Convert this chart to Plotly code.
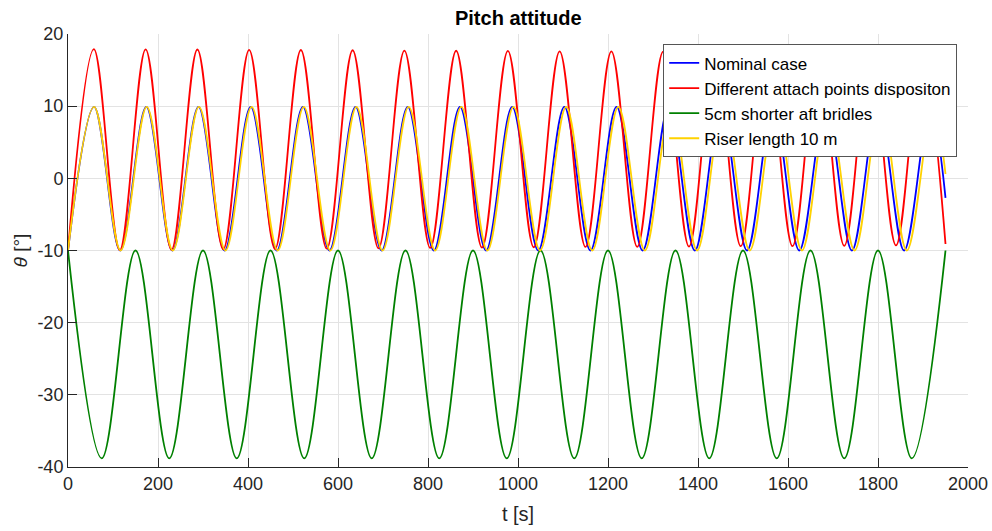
import plotly.graph_objects as go

# Extrema (peak / trough) times [s] and pitch values [deg]
t_nominal = [0, 58, 116, 174, 232, 290, 348, 406, 464, 522, 581, 639, 697, 755, 813, 871,
             929, 987, 1045, 1103, 1161, 1219, 1277, 1335, 1393, 1451, 1509, 1567, 1625,
             1684, 1742, 1800, 1858, 1916, 1950]
th_nominal = [-10, 9.9, -10, 9.9, -10, 9.9, -10, 9.9, -10, 9.9, -10, 9.9, -10, 9.9, -10, 9.9,
              -10, 9.9, -10, 9.9, -10, 9.9, -10, 9.9, -10, 9.9, -10, 9.9, -10, 9.9,
              -10, 9.9, -10, 9.9, -2.7]

t_attach = [0, 57.5, 115, 172.5, 230, 287.5, 345, 402.5, 460, 517.5, 575, 632.5, 690, 747.5,
            805, 862.5, 920, 977.5, 1035, 1092.5, 1150, 1207.5, 1265, 1322.5, 1380, 1437.5,
            1495, 1552.5, 1610, 1667.5, 1725, 1782.5, 1840, 1897.5, 1950]
th_attach = [-10, 17.9, -9.95, 17.88, -9.9, 17.85, -9.85, 17.8, -9.8, 17.78, -9.75, 17.75,
             -9.7, 17.7, -9.65, 17.68, -9.6, 17.65, -9.55, 17.6, -9.5, 17.58, -9.5, 17.55,
             -9.45, 17.5, -9.4, 17.48, -9.4, 17.45, -9.35, 17.4, -9.3, 17.38, -9.1]

t_bridles = [0, 75, 150, 225, 300, 375, 450, 525, 600, 675, 750, 825, 900, 975, 1050, 1125,
             1200, 1275, 1350, 1425, 1500, 1575, 1650, 1725, 1800, 1875, 1950]
th_bridles = [-10, -38.8, -10, -38.8, -10, -38.8, -10, -38.8, -10, -38.8, -10, -38.8, -10,
              -38.8, -10, -38.8, -10, -38.8, -10, -38.8, -10, -38.8, -10, -38.8, -10, -38.8, -10]

t_riser = [0, 58, 117, 175, 233, 291, 350, 408, 466, 524, 583, 641, 699, 757, 816, 874, 932,
           990, 1049, 1107, 1165, 1223, 1282, 1340, 1398, 1456, 1515, 1573, 1631, 1689, 1748,
           1806, 1864, 1922, 1950]
th_riser = [-10, 9.9, -10, 9.9, -10, 9.9, -10, 9.9, -10, 9.9, -10, 9.9, -10, 9.9, -10, 9.9,
            -10, 9.9, -10, 9.9, -10, 9.9, -10, 9.9, -10, 9.9, -10, 9.9, -10, 9.9,
            -10, 9.9, -10, 9.9, 0.6]

names = ["Nominal case", "Different attach points dispositon",
         "5cm shorter aft bridles", "Riser length 10 m"]
colors = ["#0000FF", "#FF0000", "#008000", "#FFD200"]

x_ticks = [0, 200, 400, 600, 800, 1000, 1200, 1400, 1600, 1800, 2000]
y_ticks = [-40, -30, -20, -10, 0, 10, 20]

series = [(t_nominal, th_nominal), (t_attach, th_attach),
          (t_bridles, th_bridles), (t_riser, th_riser)]

FONT = "Liberation Sans, Arial, Helvetica, sans-serif"
AX = "#262626"
GRID = "#E3E3E3"

fig = go.Figure()
for (tx, ty), nm, c in zip(series, names, colors):
    fig.add_trace(go.Scatter(x=tx, y=ty, mode="lines", name=nm,
                             line=dict(color=c, width=1.8, shape="spline", smoothing=1)))

fig.update_layout(
    width=992, height=531,
    margin=dict(l=68, r=24, t=34, b=64, autoexpand=False),
    paper_bgcolor="white", plot_bgcolor="white",
    font=dict(family=FONT, size=18, color=AX),
    title=dict(text="<b>Pitch attitude</b>", x=0.5225, xanchor="center",
               y=1 - 18 / 531, yanchor="middle",
               font=dict(family=FONT, size=20, color="black")),
    legend=dict(x=0.988, xanchor="right", y=0.976, yanchor="top",
                bgcolor="white", bordercolor="#555555", borderwidth=1,
                font=dict(family=FONT, size=17, color="black"),
                tracegroupgap=0, itemwidth=30),
    showlegend=True,
)
fig.update_xaxes(range=[0, 2000], tickvals=x_ticks, ticktext=[str(v) for v in x_ticks],
                 showgrid=True, gridcolor=GRID, gridwidth=1, automargin=False,
                 showline=True, linecolor=AX, linewidth=1, mirror=False,
                 ticks="inside", ticklen=9, tickcolor=AX, tickwidth=1,
                 zeroline=False, tickfont=dict(size=18, color=AX),
                 title=dict(text="t [s]", font=dict(size=20, color=AX), standoff=14))
fig.update_yaxes(range=[-40, 20], tickvals=y_ticks, ticktext=[str(v) for v in y_ticks],
                 showgrid=True, gridcolor=GRID, gridwidth=1, automargin=False,
                 showline=True, linecolor=AX, linewidth=1, mirror=False,
                 ticks="inside", ticklen=9, tickcolor=AX, tickwidth=1,
                 zeroline=False, tickfont=dict(size=18, color=AX),
                 title=dict(text="<i>θ</i> [°]", font=dict(size=19, color=AX), standoff=4))

fig.write_html("out.html")
